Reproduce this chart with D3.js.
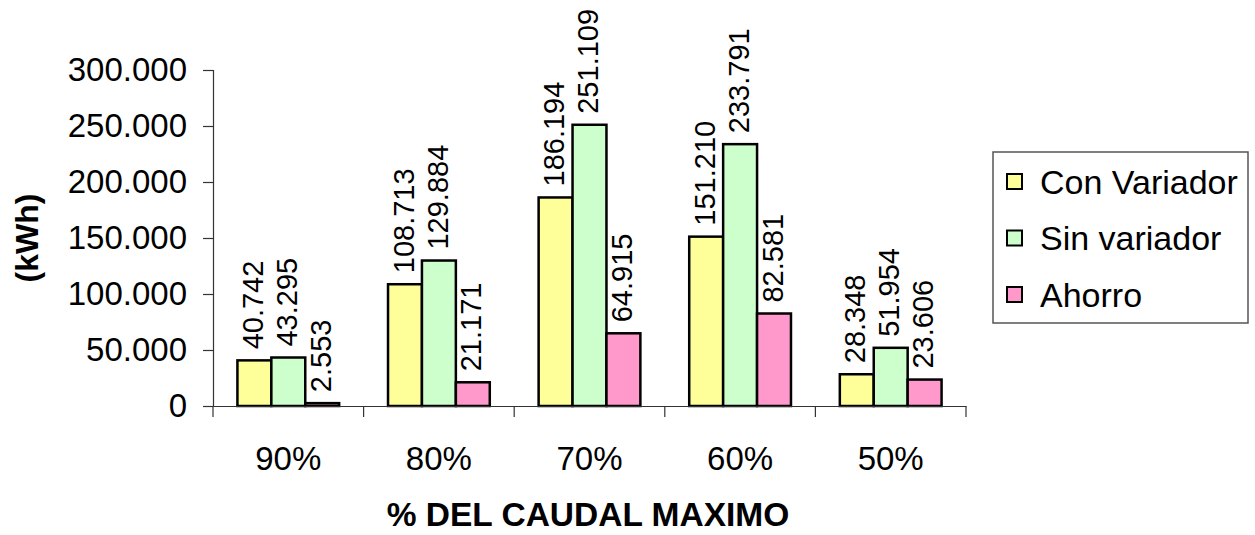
<!DOCTYPE html>
<html>
<head>
<meta charset="utf-8">
<script src="https://cdn.jsdelivr.net/npm/d3@7"></script>
<style>
  html, body { margin: 0; padding: 0; background: #fff; }
  svg { display: block; font-family: "Liberation Sans", Arial, sans-serif; }
</style>
</head>
<body>
<svg id="chart" width="1255" height="535"></svg>
<script>
// Energía consumida según el % del caudal máximo
const categories = ["90%", "80%", "70%", "60%", "50%"];
const seriesNames = ["Con Variador", "Sin variador", "Ahorro"];
const conVariador = [40742, 108713, 186194, 151210, 28348];
const sinVariador = [43295, 129884, 251109, 233791, 51954];
const ahorro = [2553, 21171, 64915, 82581, 23606];
const yTicks = [0, 50000, 100000, 150000, 200000, 250000, 300000];
const colors = ["#FFFF99", "#CCFFCC", "#FF99CC"];

const seriesValues = [conVariador, sinVariador, ahorro];
const data = categories.map((c, i) => ({
  cat: c,
  vals: seriesNames.map((s, j) => ({ key: s, idx: j, value: seriesValues[j][i] }))
}));

const svg = d3.select("#chart");
const m = { left: 213, top: 70, right: 1255 - 966, bottom: 535 - 406 };
const W = 1255 - m.left - m.right;
const H = 535 - m.top - m.bottom;

const g = svg.append("g").attr("transform", `translate(${m.left},${m.top})`);

const x0 = d3.scaleBand().domain(categories).range([0, W]).padding(0);
const x1 = d3.scaleBand().domain(seriesNames).range([0, x0.bandwidth()])
  .paddingInner(0).paddingOuter(0.72);
const y = d3.scaleLinear().domain([0, 300000]).range([H, 0]);

const fmt = d3.formatLocale({ decimal: ",", thousands: ".", grouping: [3], currency: ["", ""] }).format(",d");

// Y axis
const yAxis = g.append("g")
  .call(d3.axisLeft(y).tickValues(yTicks).tickSize(10).tickPadding(16).tickFormat(fmt));
yAxis.select(".domain").attr("stroke", "#333").attr("stroke-width", 1.2);
yAxis.selectAll(".tick line").attr("stroke", "#333").attr("stroke-width", 1.2);
yAxis.selectAll(".tick text").attr("font-size", 33).attr("fill", "#000")
  .attr("font-family", "Liberation Sans, Arial, sans-serif");

// Bars
const groups = g.selectAll(".grp").data(data).join("g")
  .attr("class", "grp")
  .attr("transform", d => `translate(${x0(d.cat)},0)`);

groups.selectAll("rect").data(d => d.vals).join("rect")
  .attr("x", d => x1(d.key))
  .attr("y", d => y(d.value))
  .attr("width", x1.bandwidth())
  .attr("height", d => H - y(d.value))
  .attr("fill", d => colors[d.idx])
  .attr("stroke", "#000")
  .attr("stroke-width", 2.5);

// Value labels (rotated)
groups.selectAll("text.val").data(d => d.vals).join("text")
  .attr("class", "val")
  .attr("transform", d => `translate(${x1(d.key) + x1.bandwidth() / 2 - 1.5},${y(d.value) - 11}) rotate(-90)`)
  .attr("dy", "0.35em")
  .attr("text-anchor", "start")
  .attr("font-size", 29)
  .attr("fill", "#000")
  .text(d => fmt(d.value));

// X axis
const xAxis = g.append("g").attr("transform", `translate(0,${H})`)
  .call(d3.axisBottom(x0).tickSize(0).tickPadding(0).tickFormat(""));
xAxis.select(".domain").attr("stroke", "#333").attr("stroke-width", 1.2);
xAxis.selectAll(".tick").remove();
// category separators
xAxis.selectAll("line.sep").data(d3.range(categories.length + 1)).join("line")
  .attr("class", "sep")
  .attr("x1", i => i * x0.step()).attr("x2", i => i * x0.step())
  .attr("y1", 0).attr("y2", 11)
  .attr("stroke", "#333").attr("stroke-width", 1.2);
xAxis.selectAll("text.cat").data(categories).join("text")
  .attr("class", "cat")
  .attr("x", d => x0(d) + x0.bandwidth() / 2)
  .attr("y", 64)
  .attr("text-anchor", "middle")
  .attr("font-size", 33)
  .attr("fill", "#000")
  .text(d => d);

// Axis titles
svg.append("text")
  .attr("x", 588).attr("y", 526)
  .attr("text-anchor", "middle")
  .attr("font-size", 33.5).attr("font-weight", "bold")
  .text("% DEL CAUDAL MAXIMO");

svg.append("text")
  .attr("transform", "translate(38,238) rotate(-90)")
  .attr("text-anchor", "middle")
  .attr("font-size", 32).attr("font-weight", "bold")
  .text("(kWh)");

// Legend
const lg = svg.append("g").attr("transform", "translate(993,152)");
lg.append("rect").attr("width", 255).attr("height", 171)
  .attr("fill", "#fff").attr("stroke", "#555").attr("stroke-width", 1.5);
const items = lg.selectAll("g.item").data(seriesNames).join("g")
  .attr("class", "item")
  .attr("transform", (d, i) => `translate(14,${30 + i * 56.5})`);
items.append("rect").attr("x", 0).attr("y", -8).attr("width", 15).attr("height", 15)
  .attr("fill", (d, i) => colors[i]).attr("stroke", "#000").attr("stroke-width", 2);
items.append("text").attr("x", 33).attr("y", 0).attr("dy", "0.35em")
  .attr("font-size", 34).attr("fill", "#000")
  .text(d => d);
</script>
</body>
</html>
